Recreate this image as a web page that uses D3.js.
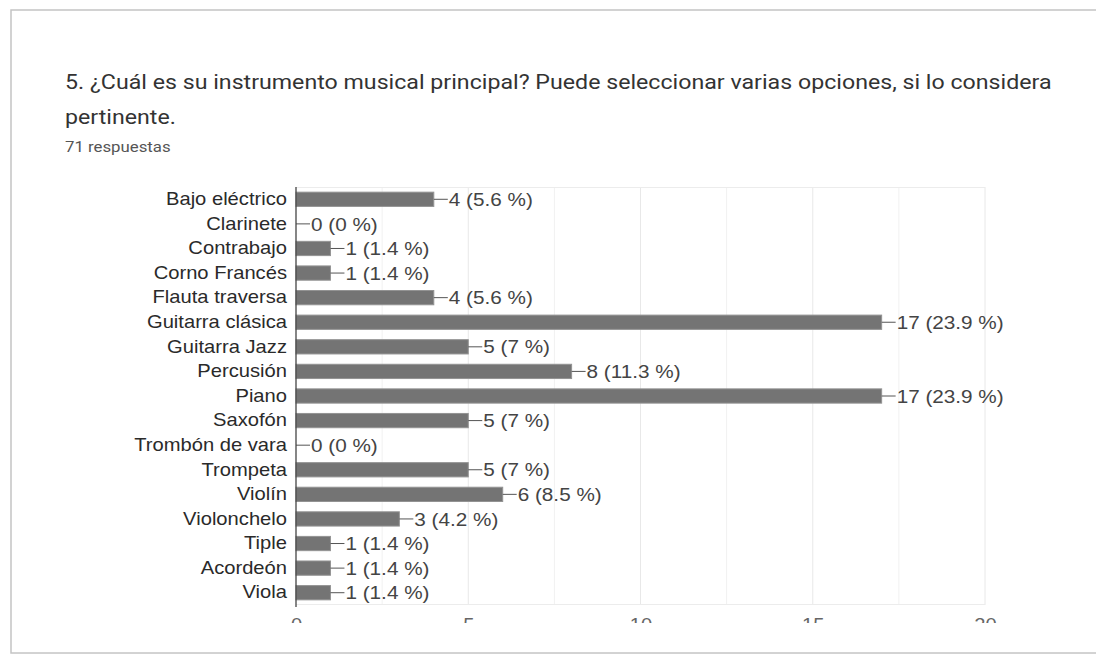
<!DOCTYPE html>
<html><head><meta charset="utf-8">
<script src="https://cdn.jsdelivr.net/npm/d3@7"></script>
<style>
html,body{margin:0;padding:0;background:#fff;overflow:hidden;}
svg{display:block;}
</style></head>
<body>
<svg id="chart" width="1096" height="655"></svg>
<script>
const categories = ["Bajo eléctrico","Clarinete","Contrabajo","Corno Francés","Flauta traversa","Guitarra clásica","Guitarra Jazz","Percusión","Piano","Saxofón","Trombón de vara","Trompeta","Violín","Violonchelo","Tiple","Acordeón","Viola"];
const counts = [4,0,1,1,4,17,5,8,17,5,0,5,6,3,1,1,1];
const percents = ["5.6","0","1.4","1.4","5.6","23.9","7","11.3","23.9","7","0","7","8.5","4.2","1.4","1.4","1.4"];
const tickValues = [0,5,10,15,20];
const gridValues = [2.5,5,7.5,10,12.5,15,17.5,20];
const titleLines = ["5. ¿Cuál es su instrumento musical principal? Puede seleccionar varias opciones, si lo considera","pertinente."];
const subtitle = "71 respuestas";

const svg = d3.select("#chart");
const W = 1096, H = 655;
const SX = 1.12; // horizontal stretch seen in the screenshot

// card
svg.append("rect").attr("x",11).attr("y",10).attr("width",W+40).attr("height",643)
  .attr("fill","#fff").attr("stroke","#c4c4c4").attr("stroke-width",1.5);

// titles
svg.append("g").selectAll("text").data(titleLines).join("text")
  .attr("transform",(d,i)=>`translate(65,${89+i*35}) scale(${SX},1)`)
  .attr("font-family","Roboto, 'Noto Sans', sans-serif")
  .attr("font-size",20.7).attr("fill","#333")
  .text(d=>d);
svg.append("text").attr("transform",`translate(65,152) scale(${SX},1)`)
  .attr("font-family","Roboto, 'Noto Sans', sans-serif")
  .attr("font-size",15).attr("fill","#555").text(subtitle);

const x = d3.scaleLinear().domain([0,20]).range([296,985]);
const y = d3.scaleBand().domain(categories).range([187,605]).paddingInner(0.42).paddingOuter(0.21);

const font = "'Liberation Sans', Arial, sans-serif";
const fs = 18;

// grid
const g = svg.append("g");
g.selectAll("line.grid").data(gridValues).join("line")
  .attr("x1",d=>x(d)).attr("x2",d=>x(d)).attr("y1",187).attr("y2",605)
  .attr("stroke",(d)=>d%5===0?"#e8e8e8":"#f1f1f1").attr("stroke-width",1);
g.append("line").attr("x1",296).attr("x2",985).attr("y1",187.5).attr("y2",187.5).attr("stroke","#ececec");
g.append("line").attr("x1",296).attr("x2",985).attr("y1",604.5).attr("y2",604.5).attr("stroke","#ececec");

// bars
const data = categories.map((c,i)=>({c, v:counts[i], p:percents[i]}));
g.selectAll("rect.bar").data(data.filter(d=>d.v>0)).join("rect")
  .attr("x",x(0)).attr("y",d=>y(d.c)).attr("width",d=>x(d.v)-x(0)).attr("height",y.bandwidth())
  .attr("fill","#747474").attr("stroke","#939393").attr("stroke-width",1);

// leader lines & value labels
g.selectAll("line.lead").data(data).join("line")
  .attr("x1",d=>x(d.v)).attr("x2",d=>x(d.v)+14)
  .attr("y1",d=>y(d.c)+y.bandwidth()/2).attr("y2",d=>y(d.c)+y.bandwidth()/2)
  .attr("stroke","#555").attr("stroke-width",1);
g.selectAll("text.val").data(data).join("text")
  .attr("transform",d=>`translate(${x(d.v)+15},${y(d.c)+y.bandwidth()/2}) scale(${SX},1)`)
  .attr("dy","0.36em")
  .attr("font-family",font).attr("font-size",18.5).attr("fill","#444")
  .text(d=>`${d.v} (${d.p} %)`);

// category axis
const yAxis = d3.axisLeft(y).tickSize(0).tickPadding(0);
const ya = svg.append("g").attr("transform","translate(296,0)").call(yAxis);
ya.select(".domain").remove();
ya.selectAll("text").attr("x",0).attr("transform",`translate(-9,0) scale(${SX},1)`)
  .attr("font-family",font).attr("font-size",fs).attr("fill","#2a2a2a");
svg.append("line").attr("x1",296).attr("x2",296).attr("y1",187).attr("y2",607).attr("stroke","#444").attr("stroke-width",1.3);

// x axis (clipped as in the screenshot)
svg.append("clipPath").attr("id","clipx").append("rect").attr("x",0).attr("y",0).attr("width",W).attr("height",623);
const xAxis = d3.axisBottom(x).tickValues(tickValues).tickSize(0).tickPadding(13);
const xa = svg.append("g").attr("clip-path","url(#clipx)").append("g").attr("transform","translate(0,605)").call(xAxis);
xa.select(".domain").remove();
xa.selectAll("text").attr("font-family",font).attr("font-size",fs).attr("fill","#666")
  .attr("transform",`scale(${SX},1)`);
</script>
</body></html>
